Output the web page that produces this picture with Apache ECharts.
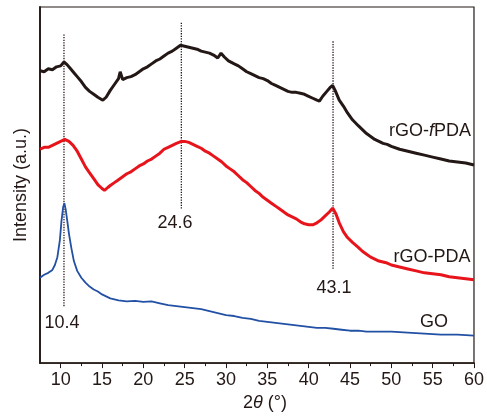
<!DOCTYPE html>
<html>
<head>
<meta charset="utf-8">
<style>
  html, body { margin: 0; padding: 0; background: #fff; }
  #chart { width: 487px; height: 417px; }
</style>
<script src="https://cdn.jsdelivr.net/npm/echarts@6/dist/echarts.min.js"></script>
</head>
<body>
<div id="chart"></div>
<script>
// [2theta, intensity (a.u., offset stacked)]
const rgoFpda = [
    [7.5, 298], [8.0, 297], [8.5, 300], [9.0, 299], [9.5, 302], [10.0, 303], [10.4, 307],
    [10.8, 304], [11.2, 300], [11.6, 296], [12.0, 292], [12.5, 287], [13.0, 281], [13.5, 277],
    [14.0, 274], [14.5, 271], [15.1, 268], [15.5, 271], [16.0, 278], [16.5, 284], [17.0, 290],
    [17.2, 297], [17.5, 289], [18.0, 291], [18.5, 292], [19.0, 294], [19.5, 297], [20.0, 300],
    [20.5, 302], [21.0, 305], [21.5, 308], [22.0, 310], [22.5, 313], [23.0, 316], [23.5, 318],
    [24.0, 321], [24.5, 324], [25.0, 323], [25.5, 322], [26.0, 321], [26.5, 320], [27.0, 318],
    [27.5, 317], [28.0, 316], [28.5, 314], [29.0, 311], [29.4, 316], [29.8, 312], [30.3, 308],
    [31.0, 305], [31.5, 303], [32.0, 300], [32.5, 297], [33.0, 295], [33.5, 293], [34.0, 291],
    [34.5, 290], [35.0, 288], [35.5, 285], [36.0, 283], [36.5, 281], [37.0, 279], [37.5, 277],
    [38.0, 276], [38.5, 276], [39.0, 275], [39.5, 274], [40.0, 272], [40.5, 270], [41.0, 268],
    [41.3, 267], [41.7, 272], [42.2, 277], [42.6, 281], [42.9, 283], [43.2, 278], [43.7, 268],
    [44.2, 262], [44.7, 255], [45.3, 248], [46.0, 242], [46.5, 238], [47.0, 234], [47.5, 231],
    [48.0, 228], [48.5, 226], [49.0, 224], [49.5, 223], [50.0, 221], [51.0, 218], [52.0, 216],
    [53.0, 214], [54.0, 212], [55.0, 210], [56.0, 208], [57.0, 206], [58.0, 205], [59.0, 204],
    [60.0, 202]
];

const rgoPda = [
    [7.5, 218], [8.0, 220], [8.5, 220], [9.0, 222], [9.5, 224], [10.0, 226], [10.5, 228],
    [11.0, 226], [11.5, 222], [12.0, 216], [12.5, 208], [13.0, 200], [13.5, 194], [14.0, 188],
    [14.5, 182], [15.0, 178], [15.3, 176], [15.7, 179], [16.0, 181], [16.5, 184], [17.0, 187],
    [17.5, 190], [18.0, 193], [18.5, 195], [19.0, 198], [19.5, 201], [20.0, 203], [20.5, 206],
    [21.0, 208], [21.5, 211], [22.0, 214], [22.5, 218], [23.0, 220], [23.5, 222], [24.0, 224],
    [24.6, 226], [25.0, 226], [25.5, 225], [26.0, 223], [26.5, 221], [27.0, 219], [27.5, 216],
    [28.0, 214], [28.5, 211], [29.0, 208], [29.5, 205], [30.0, 201], [30.5, 198], [31.0, 195],
    [31.5, 191], [32.0, 187], [32.5, 184], [33.0, 180], [33.5, 176], [34.0, 173], [34.5, 169],
    [35.0, 166], [35.5, 163], [36.0, 160], [36.5, 157], [37.0, 154], [37.5, 151], [38.0, 149],
    [38.5, 147], [39.0, 144], [39.5, 142], [40.0, 141], [40.5, 141], [41.0, 143], [41.5, 146],
    [42.0, 150], [42.5, 154], [42.9, 158], [43.3, 152], [43.7, 143], [44.2, 134], [44.7, 128],
    [45.3, 123], [46.0, 118], [46.5, 114], [47.0, 111], [47.5, 108], [48.0, 106], [48.5, 104],
    [49.0, 103], [49.5, 102], [50.0, 100], [51.0, 98], [52.0, 96], [53.0, 94], [54.0, 92],
    [55.0, 91], [56.0, 90], [57.0, 88], [58.0, 87], [59.0, 86], [60.0, 85]
];

const go = [
    [7.5, 87], [8.0, 90], [8.5, 92], [9.0, 95], [9.3, 100], [9.6, 108], [9.9, 125], [10.1, 145],
    [10.3, 159], [10.45, 163], [10.6, 157], [10.8, 145], [11.0, 132], [11.3, 117], [11.6, 104],
    [12.0, 94], [12.5, 87], [13.0, 82], [13.5, 78], [14.0, 75], [14.5, 73], [15.0, 70],
    [15.5, 68], [16.0, 66], [16.5, 65], [17.0, 64], [18.0, 63], [19.0, 63.5], [20.0, 62.5],
    [21.0, 63], [22.0, 61], [23.0, 59], [24.0, 58], [25.0, 57], [26.0, 56], [27.0, 55],
    [28.0, 53], [29.0, 51], [30.0, 49], [31.0, 48], [32.0, 46], [33.0, 45], [34.0, 43],
    [35.0, 42], [36.0, 41], [37.0, 40], [38.0, 39], [39.0, 38], [40.0, 37], [41.0, 36],
    [42.0, 36], [43.0, 35], [44.0, 34], [45.0, 33], [46.0, 33], [47.0, 32], [48.0, 32],
    [50.0, 32], [52.0, 31], [54.0, 30], [56.0, 29], [58.0, 29], [60.0, 28]
];

// peak guide lines: [2theta, top, bottom]
const peakLines = [[10.4, 335, 58], [24.6, 347, 157], [42.95, 328, 96]];

const majorTicks = [10, 15, 20, 25, 30, 35, 40, 45, 50, 55, 60];
const minorTicks = [12.5, 17.5, 22.5, 27.5, 32.5, 37.5, 42.5, 47.5, 52.5, 57.5];

const FONT = '"Liberation Sans", Arial, sans-serif';
const INK = '#231815';

const chart = echarts.init(document.getElementById('chart'), null, { renderer: 'canvas' });

const guideSeries = peakLines.map(([x, top, bottom]) => ({
    type: 'line',
    data: [[x, top], [x, bottom]],
    symbol: 'none',
    silent: true,
    lineStyle: { color: INK, width: 1.3, type: [1.3, 1.3] },
    z: 1
}));

function curve(data, color, width) {
    return {
        type: 'line',
        data: data,
        symbol: 'none',
        lineStyle: { color: color, width: width },
        z: 3
    };
}

function label(text, x, y, rich) {
    return {
        type: 'text',
        x: x, y: y,
        style: {
            text: text,
            font: '18px ' + FONT,
            fill: INK,
            align: 'center',
            verticalAlign: 'middle',
            rich: rich
        },
        z: 10
    };
}

chart.setOption({
    animation: false,
    grid: { left: 40, right: 12, top: 7, bottom: 47, show: true, borderColor: INK, borderWidth: 1.2 },
    xAxis: [{
        type: 'value',
        min: 7.5,
        max: 60,
        axisLine: { onZero: false, lineStyle: { color: INK, width: 1.5 } },
        axisTick: { length: 5, lineStyle: { color: INK }, customValues: majorTicks },
        axisLabel: { customValues: majorTicks, color: INK, fontSize: 18, fontFamily: FONT, margin: 8 },
        splitLine: { show: false },
        name: '{n|2}{i|θ}{n| (°)}',
        nameLocation: 'middle',
        nameGap: 30,
        nameTextStyle: {
            padding: [0, 0, 0, 16],
            rich: {
                n: { fontSize: 18, fontFamily: FONT, color: INK },
                i: { fontSize: 18, fontFamily: FONT, color: INK, fontStyle: 'italic' }
            }
        }
    }, {
        type: 'value',
        min: 7.5,
        max: 60,
        position: 'bottom',
        axisLine: { show: false },
        axisTick: { length: 3, lineStyle: { color: INK }, customValues: minorTicks },
        axisLabel: { show: false },
        splitLine: { show: false }
    }],
    yAxis: {
        type: 'value',
        min: 0,
        max: 363,
        axisLine: { show: true, lineStyle: { color: INK, width: 1.8 } },
        axisTick: { show: false },
        axisLabel: { show: false },
        splitLine: { show: false },
        name: 'Intensity (a.u.)',
        nameLocation: 'middle',
        nameGap: 10,
        nameTextStyle: { fontSize: 18, fontFamily: FONT, color: INK }
    },
    series: [
        ...guideSeries,
        curve(rgoFpda, '#231815', 3),
        curve(rgoPda, '#e8141b', 3),
        curve(go, '#2250a4', 1.8)
    ],
    graphic: [
        label('10.4', 62, 323),
        label('24.6', 175, 223),
        label('43.1', 334, 288),
        label('GO', 434, 322),
        label('rGO-PDA', 432, 257),
        label('{n|rGO-}{i|f}{n|PDA}', 430, 131, {
            n: { fontSize: 18, fontFamily: FONT, fill: INK },
            i: { fontSize: 18, fontFamily: FONT, fill: INK, fontStyle: 'italic' }
        })
    ]
});

window.addEventListener('resize', () => chart.resize());
</script>
</body>
</html>
